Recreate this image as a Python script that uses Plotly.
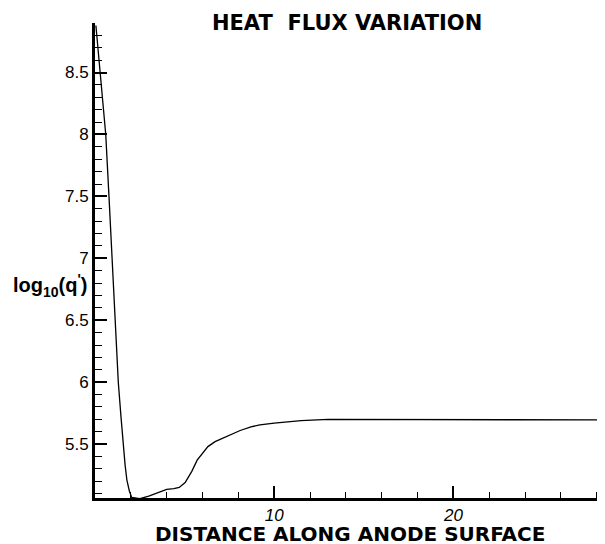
import plotly.graph_objects as go

distance = [0.05, 0.15, 0.28, 0.45, 0.6, 0.78, 0.95, 1.12, 1.3, 1.45, 1.56, 1.68, 1.78, 1.92,
            2.05, 2.5, 3.0, 3.5, 4.0, 4.4, 4.7, 5.03, 5.4, 5.7, 6.0, 6.3, 6.7, 7.0, 7.4, 8.1,
            8.7, 9.2, 10.0, 11.5, 13.0, 15.0, 18.0, 20.0, 23.0, 26.0, 28.4]
log_q = [8.88, 8.72, 8.5, 8.23, 8.0, 7.5, 7.0, 6.5, 6.0, 5.72, 5.5, 5.33, 5.21, 5.12,
         5.07, 5.06, 5.08, 5.11, 5.135, 5.14, 5.15, 5.19, 5.28, 5.37, 5.43, 5.48, 5.52, 5.54,
         5.57, 5.61, 5.64, 5.655, 5.67, 5.69, 5.70, 5.70, 5.70, 5.70, 5.70, 5.70, 5.695]

x_ticks = [10, 20]
x_tick_labels = ["<i>10</i>", "<i>20</i>"]
y_ticks = [5.5, 6, 6.5, 7, 7.5, 8, 8.5]
y_tick_labels = ["5.5", "6", "6.5", "7", "7.5", "8", "8.5"]

FONT = "Liberation Sans, Arial, sans-serif"
BOLD = "DejaVu Sans, Liberation Sans, sans-serif"

fig = go.Figure()
fig.add_trace(go.Scatter(x=distance, y=log_q, mode="lines",
                         line=dict(color="black", width=1.3),
                         showlegend=False))

# page body has an 8px margin; compensate so the figure lines up with a 605x544 view
fig.update_layout(
    width=597, height=536,
    margin=dict(l=87, r=1, t=15, b=46),
    paper_bgcolor="white", plot_bgcolor="white",
    font=dict(family=FONT, color="black"),
    title=dict(text="<b>HEAT  FLUX VARIATION</b>", x=0.568, xanchor="center",
               y=0.972, yanchor="middle", font=dict(size=21, family=BOLD, color="black")),
    xaxis=dict(range=[0, 28.4], showgrid=False, zeroline=False,
               showline=True, linecolor="black", linewidth=3,
               ticks="inside", ticklen=12, tickwidth=2, tickcolor="black",
               tickvals=x_ticks, ticktext=x_tick_labels,
               tickfont=dict(size=17, family=FONT),
               minor=dict(dtick=2, tick0=0, ticks="inside", ticklen=6, tickwidth=1.2,
                          tickcolor="black")),
    yaxis=dict(range=[5.065, 8.9], showgrid=False, zeroline=False,
               showline=True, linecolor="black", linewidth=3,
               ticks="inside", ticklen=12, tickwidth=2, tickcolor="black",
               tickvals=y_ticks, ticktext=y_tick_labels,
               tickfont=dict(size=17, family=FONT),
               minor=dict(dtick=0.1, tick0=5.0, ticks="inside", ticklen=7, tickwidth=1.2,
                          tickcolor="black")),
)

fig.add_annotation(text="<b>DISTANCE ALONG ANODE SURFACE</b>", xref="paper", x=0.5,
                   xanchor="center", yref="paper", y=0, yanchor="middle", yshift=-36,
                   showarrow=False, font=dict(size=20, family=BOLD, color="black"))

fig.add_annotation(text="<b>log<sub>10</sub>(q<sup>'</sup>)</b>", xref="paper", x=0,
                   xanchor="right", xshift=-6, yref="y", y=6.78, yanchor="middle",
                   showarrow=False, font=dict(size=20, family=FONT, color="black"))

fig.write_html("out.html")
